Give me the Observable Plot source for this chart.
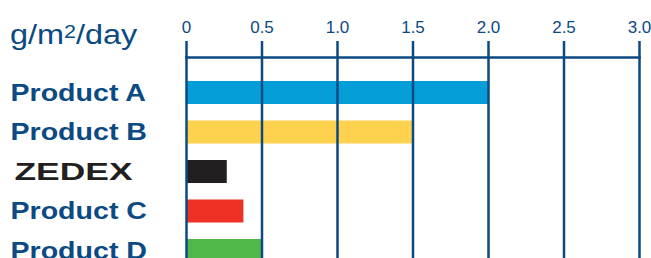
<!DOCTYPE html>
<html>
<head>
<meta charset="utf-8">
<script src="https://cdn.jsdelivr.net/npm/d3@7"></script>
<script src="https://cdn.jsdelivr.net/npm/@observablehq/plot@0.6"></script>
<style>
  html, body { margin: 0; padding: 0; background: #fff; }
  #wrap { position: relative; width: 651px; height: 258px; overflow: hidden; background: #fff; }
  #title { position: absolute; left: 10px; top: 22px; font: 27px 'Liberation Sans', Arial, sans-serif; line-height: 27px;
           color: #0b4a82; transform: scaleX(1.2); transform-origin: left top; white-space: nowrap; }
  #title sup { font-size: 18px; vertical-align: 6px; line-height: 0; }
</style>
</head>
<body>
<div id="wrap"><div id="title">g/m<sup>2</sup>/day</div></div>
<script>
// Data
const categories = ["Product A", "Product B", "ZEDEX", "Product C", "Product D"];
const values = [2.0, 1.5, 0.27, 0.38, 0.5];
const barColors = ["#069ed9", "#fed24f", "#231f20", "#ee3124", "#50b848"];
const ticks = [0, 0.5, 1, 1.5, 2, 2.5, 3];
const tickLabels = ["0", "0.5", "1.0", "1.5", "2.0", "2.5", "3.0"];

const data = categories.map((name, i) => ({name, value: values[i]}));
const productLabels = categories.filter(c => c !== "ZEDEX");
const brandLabels = categories.filter(c => c === "ZEDEX");

const navy = "#0b4a82";

const chart = Plot.plot({
  width: 651,
  height: 258,
  marginLeft: 186,
  marginRight: 12,
  marginTop: 57,
  marginBottom: 0,
  style: {fontFamily: "'Liberation Sans', Arial, sans-serif", background: "transparent", overflow: "hidden"},
  x: {domain: [0, 3]},
  y: {domain: categories, range: [81, 262], paddingInner: 0.4177, paddingOuter: 0, round: false, axis: null},
  color: {domain: categories, range: barColors},
  marks: [
    Plot.barX(data, {x: "value", y: "name", fill: "name"}),
    Plot.ruleX(ticks, {stroke: navy, strokeWidth: 2.5}),
    Plot.frame({anchor: "top", stroke: navy, strokeWidth: 2.5}),
    Plot.axisX(ticks, {
      anchor: "top", tickSize: 17, tickPadding: 8, label: null,
      tickFormat: d => tickLabels[ticks.indexOf(d)],
      fontSize: 17, color: navy, strokeWidth: 2.5
    }),
    Plot.text(productLabels, {
      y: d => d, text: d => d, frameAnchor: "left", textAnchor: "start", dx: -176, dy: 0,
      fontSize: 24, fontWeight: "bold", fill: navy
    }),
    Plot.text(brandLabels, {
      y: d => d, text: d => d, frameAnchor: "left", textAnchor: "start", dx: -172, dy: 0,
      fontSize: 24, fontWeight: "bold", fill: "#231f20"
    })
  ]
});

document.getElementById("wrap").appendChild(chart);

// Widen label glyphs to match the reference typeface proportions
d3.select(chart).selectAll("text").each(function() {
  const t = this.textContent;
  if (productLabels.includes(t)) {
    const w = this.getComputedTextLength();
    this.setAttribute("textLength", (w * 1.19).toFixed(1));
    this.setAttribute("lengthAdjust", "spacingAndGlyphs");
  } else if (brandLabels.includes(t)) {
    this.setAttribute("textLength", "118");
    this.setAttribute("lengthAdjust", "spacingAndGlyphs");
  }
});
</script>
</body>
</html>
